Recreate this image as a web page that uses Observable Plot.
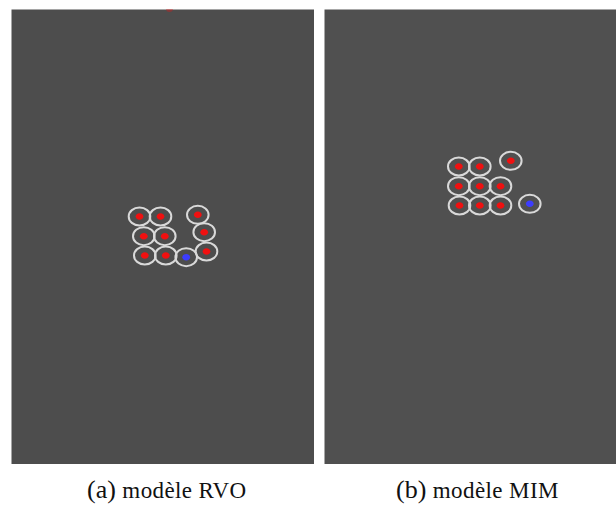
<!DOCTYPE html>
<html>
<head>
<meta charset="utf-8">
<script src="https://cdn.jsdelivr.net/npm/d3@7"></script>
<script src="https://cdn.jsdelivr.net/npm/@observablehq/plot@0.6"></script>
<style>
  html, body { margin: 0; padding: 0; background: #fff; }
  #wrap { position: relative; width: 616px; height: 509px; overflow: hidden; background: #fff; }
  .panel { position: absolute; top: 9px; }
  .cap { position: absolute; top: 477px; font-family: "Liberation Serif", "DejaVu Serif", serif; font-size: 26px; line-height: 26px; color: #111; white-space: nowrap; }
  .cap .lab { font-size: 26px; }
  .cap .txt { font-size: 23px; letter-spacing: 0.4px; }
</style>
</head>
<body>
<div id="wrap"></div>
<script>
// Panel identifiers and captions
const panelLabels = ["(a)", "(b)"];
const panelTexts = ["modèle RVO", "modèle MIM"];

// Agent positions (pixels inside each panel, origin top-left) and type
const rvoX = [128, 149, 186.3, 132.3, 153.3, 192.7, 133.3, 154.3, 174.7, 195];
const rvoY = [207, 207, 205.3, 226.7, 226.7, 222.7, 246, 246, 247.7, 242];
const rvoType = ["red","red","red","red","red","red","red","red","blue","red"];
// agent leaving through the top edge of panel (a)
const rvoEdgeX = [158];
const rvoEdgeY = [-1];

const mimX = [134.3, 155.3, 186.3, 134.3, 155.3, 176, 135, 155.3, 176, 205.3];
const mimY = [157, 157, 151.3, 176.7, 176.7, 176.7, 196, 196, 196, 194.3];
const mimType = ["red","red","red","red","red","red","red","red","red","blue"];

const panelW = [303, 292];
const panelH = 455;
const panelLeft = [11, 324];
const captionLeft = [87, 396];

const typeColor = {red: "#f01010", blue: "#3c3cff"};

// elliptical symbol (agents appear slightly wider than tall)
const ellipse = {
  draw(ctx, size) {
    const r = Math.sqrt(size / Math.PI);
    const rx = r * 1.08, ry = r * 0.9, k = 0.5523;
    ctx.moveTo(rx, 0);
    ctx.bezierCurveTo(rx, k * ry, k * rx, ry, 0, ry);
    ctx.bezierCurveTo(-k * rx, ry, -rx, k * ry, -rx, 0);
    ctx.bezierCurveTo(-rx, -k * ry, -k * rx, -ry, 0, -ry);
    ctx.bezierCurveTo(k * rx, -ry, rx, -k * ry, rx, 0);
    ctx.closePath();
  }
};

function agents(xs, ys, types) {
  return xs.map((x, i) => ({x, y: ys[i], type: types[i]}));
}

const datasets = [
  {agents: agents(rvoX, rvoY, rvoType), edge: rvoEdgeX.map((x, i) => ({x, y: rvoEdgeY[i]})), bg: "#4d4d4d"},
  {agents: agents(mimX, mimY, mimType), edge: [], bg: "#505050"}
];

const wrap = document.getElementById("wrap");

datasets.forEach((ds, p) => {
  const w = panelW[p];
  const chart = Plot.plot({
    width: w,
    height: panelH,
    margin: 0,
    x: {domain: [0, w], range: [0, w], axis: null},
    y: {domain: [0, panelH], range: [0, panelH], axis: null},
    color: {type: "identity"},
    marks: [
      Plot.frame({fill: ds.bg, stroke: null}),
      Plot.dot(ds.edge, {x: "x", y: "y", r: 3.5, fill: typeColor.red, fillOpacity: 0.35, clip: true}),
      Plot.dot(ds.agents, {x: "x", y: "y", r: 10, symbol: ellipse, fill: "none", stroke: "#d9d9d9", strokeWidth: 2}),
      Plot.dot(ds.agents, {x: "x", y: "y", r: 3.6, symbol: ellipse, fill: d => typeColor[d.type], stroke: null})
    ]
  });
  const div = document.createElement("div");
  div.className = "panel";
  div.style.left = panelLeft[p] + "px";
  div.appendChild(chart);
  wrap.appendChild(div);

  const cap = document.createElement("div");
  cap.className = "cap";
  cap.style.left = captionLeft[p] + "px";
  cap.innerHTML = `<span class="lab">${panelLabels[p]}</span> <span class="txt">${panelTexts[p]}</span>`;
  wrap.appendChild(cap);
});
</script>
</body>
</html>
